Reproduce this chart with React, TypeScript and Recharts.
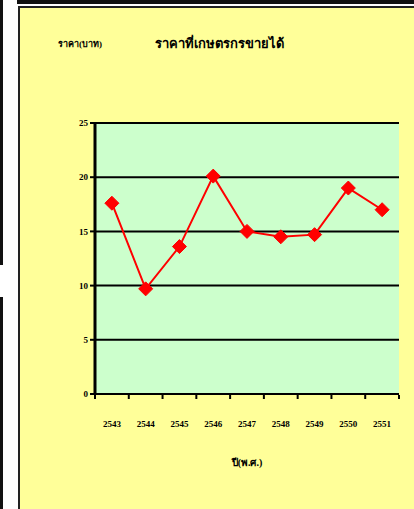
import React from "react";
import { LineChart, Line, XAxis, YAxis, CartesianGrid } from "recharts";

const years = ["2543", "2544", "2545", "2546", "2547", "2548", "2549", "2550", "2551"];
const prices = [17.6, 9.7, 13.6, 20.1, 15.0, 14.5, 14.7, 19.0, 17.0];
const yTicks = [0, 5, 10, 15, 20, 25];

const data = years.map((year, i) => ({ year, price: prices[i] }));

const FONT = '"Times New Roman", "Liberation Serif", serif';
const PLOT_LEFT = 95;
const PLOT_RIGHT = 399;
const STEP = (PLOT_RIGHT - PLOT_LEFT) / years.length;

const Diamond = (props: any) => {
  const { cx, cy } = props;
  if (cx == null || cy == null) return null;
  const r = 7;
  return (
    <polygon
      points={`${cx},${cy - r} ${cx + r},${cy} ${cx},${cy + r} ${cx - r},${cy}`}
      fill="#ff0000"
      stroke="#ff0000"
    />
  );
};

const YearTick = (props: any) => {
  const { x, y, payload, index } = props;
  const left = x - STEP / 2;
  return (
    <g>
      <line x1={left} y1={y - 7} x2={left} y2={y - 3} stroke="#000" strokeWidth={2} />
      {index === years.length - 1 && (
        <line x1={x + STEP / 2} y1={y - 7} x2={x + STEP / 2} y2={y - 3} stroke="#000" strokeWidth={2} />
      )}
      <text
        x={x}
        y={y + 25}
        textAnchor="middle"
        fontFamily={FONT}
        fontWeight="bold"
        fontSize={9}
        fill="#000"
      >
        {payload.value}
      </text>
    </g>
  );
};

export default function App() {
  return (
    <div
      style={{
        position: "absolute",
        left: 0,
        top: 0,
        width: 414,
        height: 509,
        background: "#fff",
        overflow: "hidden",
      }}
    >
      {/* left frame pieces */}
      <div style={{ position: "absolute", left: 0, top: 0, width: 3, height: 265, background: "#111" }} />
      <div style={{ position: "absolute", left: 0, top: 297, width: 3, height: 212, background: "#111" }} />
      {/* top frame line */}
      <div style={{ position: "absolute", left: 17, top: 0, width: 397, height: 4, background: "#111" }} />
      {/* yellow chart area */}
      <div
        style={{
          position: "absolute",
          left: 18,
          top: 6,
          width: 400,
          height: 510,
          background: "#ffff99",
          border: "2px solid #222",
          boxSizing: "border-box",
        }}
      />
      <div
        style={{
          position: "absolute",
          left: 40,
          top: 37,
          width: 80,
          textAlign: "center",
          fontFamily: FONT,
          fontWeight: "bold",
          fontSize: 9,
          color: "#000",
        }}
      >
        ราคา(บาท)
      </div>
      <div
        style={{
          position: "absolute",
          left: 139,
          top: 33,
          width: 160,
          textAlign: "center",
          fontFamily: FONT,
          fontWeight: "bold",
          fontSize: 13,
          color: "#000",
        }}
      >
        ราคาที่เกษตรกรขายได้
      </div>
      <div
        style={{
          position: "absolute",
          left: 207,
          top: 455,
          width: 80,
          textAlign: "center",
          fontFamily: FONT,
          fontWeight: "bold",
          fontSize: 10,
          color: "#000",
        }}
      >
        ปี(พ.ศ.)
      </div>
      <div style={{ position: "absolute", left: 0, top: 0 }}>
        <LineChart
          width={414}
          height={509}
          data={data}
          margin={{ top: 123, right: 414 - PLOT_RIGHT, bottom: 85, left: PLOT_LEFT - 30 }}
        >
          <CartesianGrid
            yAxisId="left"
            vertical={false}
            stroke="#000"
            strokeWidth={2}
            fill="#ccffcc"
            fillOpacity={1}
          />
          <XAxis
            dataKey="year"
            scale="band"
            height={30}
            axisLine={{ stroke: "#000", strokeWidth: 2 }}
            tickLine={false}
            tick={<YearTick />}
            interval={0}
          />
          <YAxis
            yAxisId="left"
            width={30}
            domain={[0, 25]}
            ticks={yTicks}
            interval={0}
            axisLine={{ stroke: "#000", strokeWidth: 3 }}
            tickLine={{ stroke: "#000", strokeWidth: 2 }}
            tickSize={5}
            tick={{ fontFamily: FONT, fontWeight: "bold", fontSize: 9, fill: "#000" }}
          />
          <YAxis
            yAxisId="right"
            orientation="right"
            width={0}
            domain={[0, 25]}
            tick={false}
            tickLine={false}
            axisLine={{ stroke: "#000", strokeWidth: 2 }}
          />
          <Line
            yAxisId="left"
            dataKey="price"
            stroke="#ff0000"
            strokeWidth={2}
            dot={<Diamond />}
            isAnimationActive={false}
          />
        </LineChart>
      </div>
    </div>
  );
}
